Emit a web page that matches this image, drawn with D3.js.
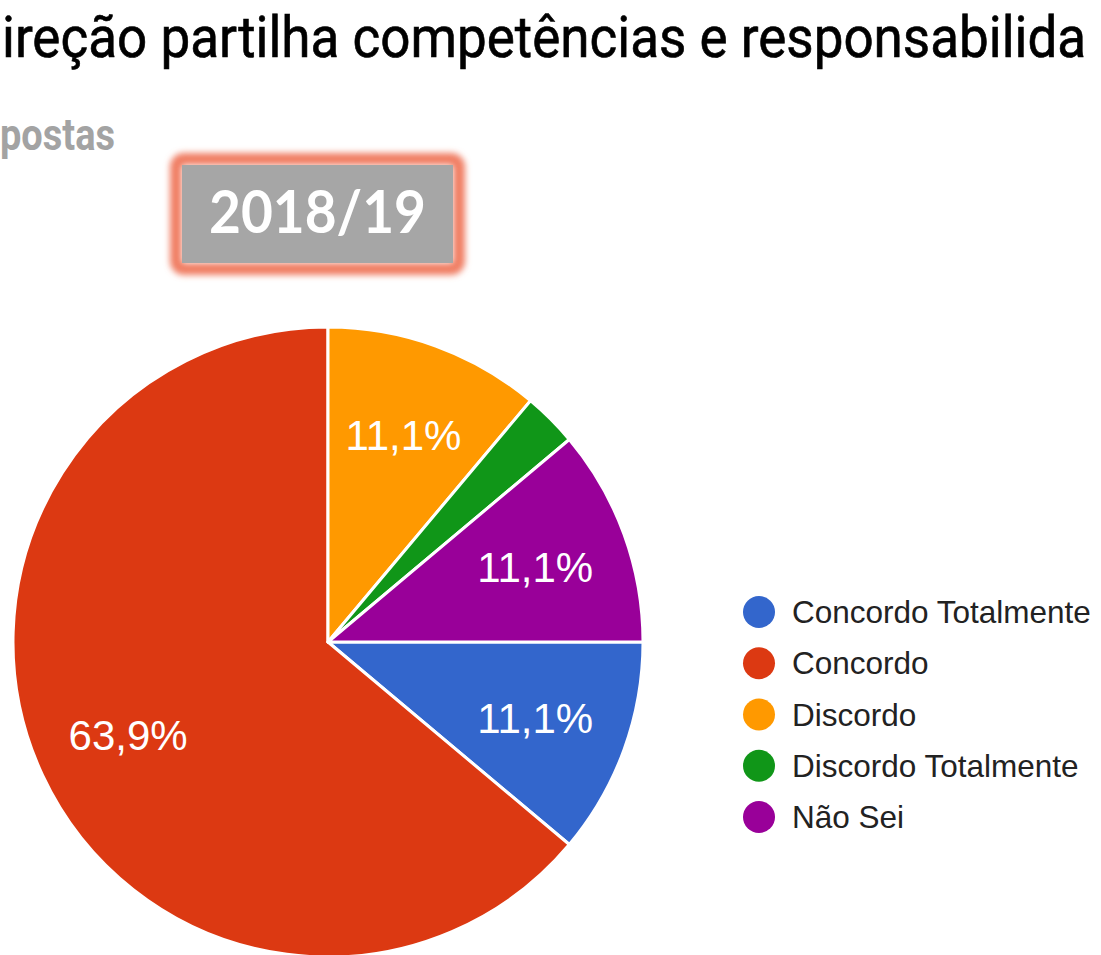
<!DOCTYPE html>
<html>
<head>
<meta charset="utf-8">
<script src="https://cdn.jsdelivr.net/npm/d3@7"></script>
<style>
  html, body { margin: 0; padding: 0; background: #ffffff; }
  svg { display: block; }
</style>
</head>
<body>
<script>
// ---- data ----
const categories = ["Concordo Totalmente", "Concordo", "Discordo", "Discordo Totalmente", "Não Sei"];
const counts = [4, 23, 4, 1, 4];
const palette = ["#3366cc", "#dc3912", "#ff9900", "#109618", "#990099"];
const titleText = "ireção partilha competências e responsabilida";
const subtitleText = "postas";
const yearLabel = "2018/19";

const W = 1101, H = 955;
const svg = d3.select("body").append("svg").attr("width", W).attr("height", H);

const defs = svg.append("defs");
const glow = defs.append("filter").attr("id", "glow")
  .attr("x", "-20%").attr("y", "-30%").attr("width", "140%").attr("height", "160%");
glow.append("feGaussianBlur").attr("stdDeviation", 3.2);

// title (fit width to the page, stretched slightly vertically)
const title = svg.append("text")
  .attr("x", 0).attr("y", 0)
  .attr("font-family", "Roboto, 'Liberation Sans', Arial, sans-serif")
  .attr("font-size", 53).attr("font-weight", 400)
  .attr("fill", "#000")
  .attr("stroke", "#000").attr("stroke-width", 0.6)
  .text(titleText);
const tw = title.node().getComputedTextLength();
const sx = Math.min(1, 1086 / tw);
title.attr("transform", `translate(2,57) scale(${sx},1.08)`);

// subtitle
svg.append("text")
  .attr("x", 0).attr("y", 150)
  .attr("font-family", "Roboto, 'Liberation Sans', Arial, sans-serif")
  .attr("font-size", 44).attr("font-weight", 700)
  .attr("fill", "#a3a3a3")
  .attr("textLength", 115).attr("lengthAdjust", "spacingAndGlyphs")
  .text(subtitleText);

// year box
const box = { x: 182, y: 165, w: 271, h: 98 };
svg.append("rect")
  .attr("x", box.x - 6).attr("y", box.y - 6)
  .attr("width", box.w + 12).attr("height", box.h + 12)
  .attr("rx", 8)
  .attr("fill", "none").attr("stroke", "#f07e64").attr("stroke-width", 12)
  .attr("filter", "url(#glow)");
svg.append("rect")
  .attr("x", box.x).attr("y", box.y).attr("width", box.w).attr("height", box.h)
  .attr("fill", "#a6a6a6");
svg.append("text")
  .attr("x", box.x + box.w / 2).attr("y", 233)
  .attr("text-anchor", "middle")
  .attr("font-family", "Lato, 'Open Sans', sans-serif")
  .attr("font-weight", 700).attr("font-size", 60)
  .attr("fill", "#ffffff")
  .attr("textLength", 217).attr("lengthAdjust", "spacingAndGlyphs")
  .text(yearLabel);

// pie
const cx = 328, cy = 642, R = 315;
const total = d3.sum(counts);
const data = categories.map((c, i) => ({ cat: c, value: counts[i], color: palette[i] }));
const pie = d3.pie().value(d => d.value).sort(null)
  .startAngle(Math.PI / 2).endAngle(Math.PI / 2 + 2 * Math.PI);
const arc = d3.arc().innerRadius(0).outerRadius(R);
const labelArc = d3.arc().innerRadius(R * 0.7).outerRadius(R * 0.7);

const g = svg.append("g").attr("transform", `translate(${cx},${cy})`);
const arcs = pie(data);
g.selectAll("path").data(arcs).join("path")
  .attr("d", arc)
  .attr("fill", d => d.data.color)
  .attr("stroke", "#ffffff").attr("stroke-width", 3).attr("stroke-linejoin", "round");

g.selectAll("text.lbl").data(arcs.filter(d => d.data.value / total >= 0.05)).join("text")
  .attr("class", "lbl")
  .attr("transform", d => `translate(${labelArc.centroid(d)})`)
  .attr("text-anchor", "middle").attr("dy", "0.36em")
  .attr("font-family", "'Liberation Sans', Arial, sans-serif")
  .attr("font-size", 42)
  .attr("fill", "#ffffff")
  .text(d => (d.data.value / total * 100).toFixed(1).replace(".", ",") + "%");

// legend
const legend = svg.append("g");
const ly = d3.scalePoint().domain(categories).range([612, 817]);
const items = legend.selectAll("g").data(data).join("g")
  .attr("transform", d => `translate(759,${ly(d.cat)})`);
items.append("circle").attr("r", 16).attr("fill", d => d.color);
items.append("text")
  .attr("x", 33).attr("y", 11)
  .attr("font-family", "'Liberation Sans', Arial, sans-serif")
  .attr("font-size", 31.5)
  .attr("fill", "#222")
  .text(d => d.cat);
</script>
</body>
</html>
